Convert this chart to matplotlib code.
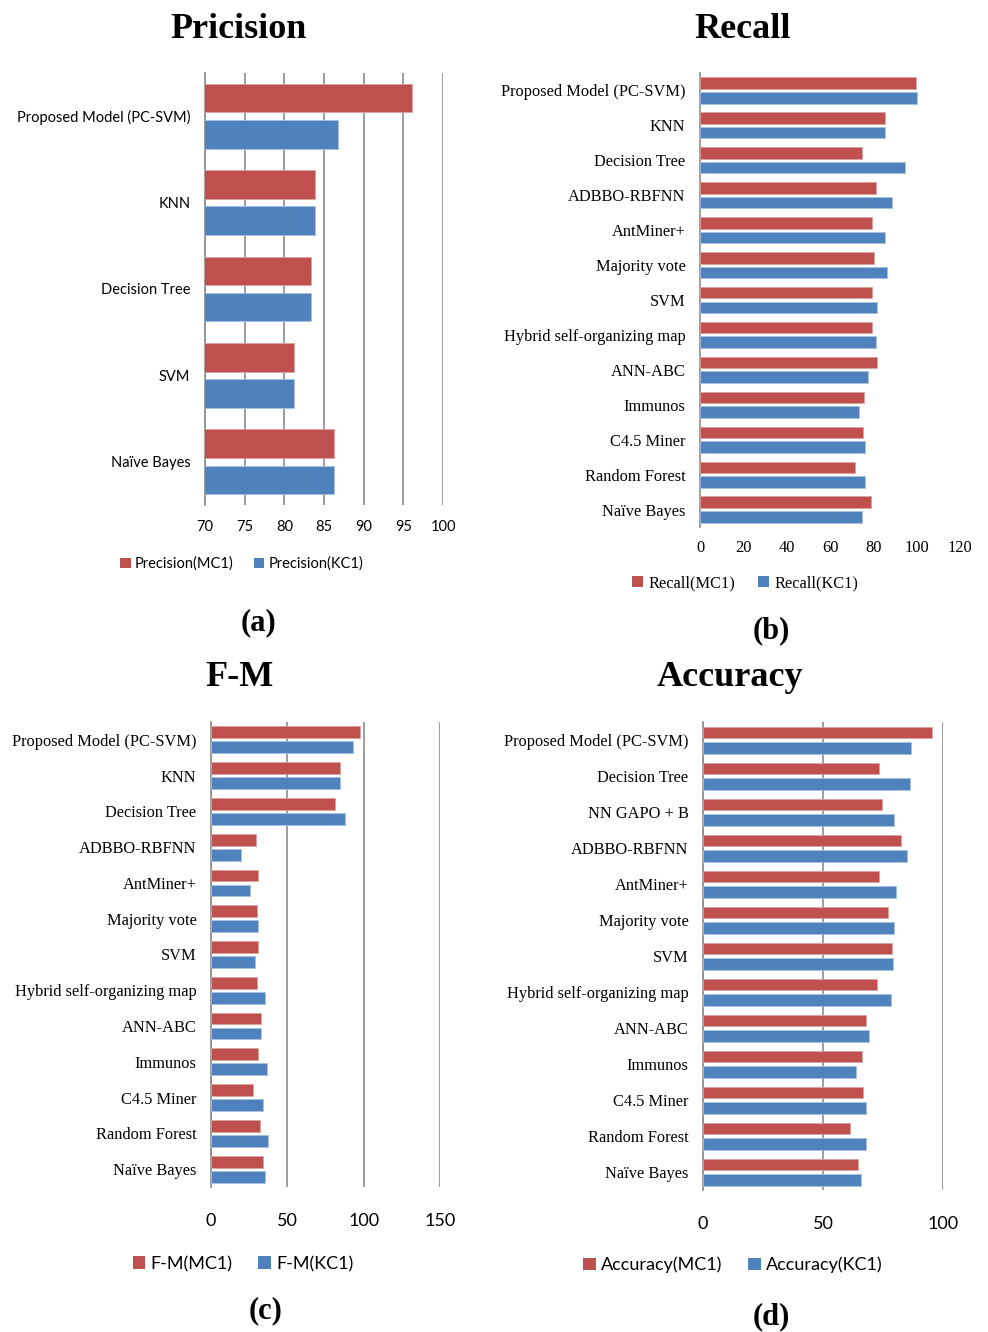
import matplotlib
matplotlib.use("Agg")
import matplotlib.pyplot as plt
from matplotlib.patches import Patch
import numpy as np

# model lists and scores per metric
prec_models = ['Proposed Model (PC-SVM)', 'KNN', 'Decision Tree', 'SVM', 'Naïve Bayes']
prec_mc1 = [96.1, 83.9, 83.3, 81.2, 86.2]
prec_kc1 = [86.8, 83.9, 83.3, 81.2, 86.2]

recall_models = ['Proposed Model (PC-SVM)', 'KNN', 'Decision Tree', 'ADBBO-RBFNN', 'AntMiner+',
                 'Majority vote', 'SVM', 'Hybrid self-organizing map', 'ANN-ABC', 'Immunos',
                 'C4.5 Miner', 'Random Forest', 'Naïve Bayes']
recall_mc1 = [99.5, 85.2, 74.8, 81.4, 79.4, 80.5, 79.5, 79.5, 81.5, 75.5, 75.1, 71.7, 79.1]
recall_kc1 = [100.2, 85.2, 94.8, 88.5, 85.4, 86.2, 81.7, 81.4, 77.4, 73.4, 76.0, 76.3, 74.8]

fm_models = recall_models
fm_mc1 = [97.7, 84.2, 81.1, 29.5, 30.6, 30.2, 31.1, 30.4, 32.6, 30.8, 27.6, 31.9, 33.9]
fm_kc1 = [92.7, 84.2, 87.7, 19.9, 25.8, 30.8, 28.6, 35.4, 32.6, 36.7, 33.9, 37.6, 35.4]

acc_models = ['Proposed Model (PC-SVM)', 'Decision Tree', 'NN GAPO + B', 'ADBBO-RBFNN', 'AntMiner+',
              'Majority vote', 'SVM', 'Hybrid self-organizing map', 'ANN-ABC', 'Immunos',
              'C4.5 Miner', 'Random Forest', 'Naïve Bayes']
acc_mc1 = [95.3, 73.5, 74.5, 82.5, 73.4, 77.0, 78.8, 72.4, 68.1, 66.1, 66.8, 61.1, 64.7]
acc_kc1 = [86.7, 86.3, 79.5, 84.9, 80.6, 79.6, 79.2, 78.4, 69.0, 63.6, 68.1, 68.1, 65.9]

RED = '#C0504D'
BLUE = '#4F81BD'
GRID = '#8c8c8c'
SANS = 'Lato'
SERIF = 'Liberation Serif'

W, H = 988, 1332
fig = plt.figure(figsize=(W / 100, H / 100), dpi=100)


def px_axes(x0, y0, x1, y1):
    # axes from pixel box (top-left origin)
    return fig.add_axes([x0 / W, 1 - y1 / H, (x1 - x0) / W, (y1 - y0) / H])


def panel(box, models, mc1, kc1, xlim, xticks, grid, cat_font, cat_size,
          tick_font, tick_size, tick_pad, legend_labels, legend_xy, legend_font, legend_size):
    ax = px_axes(*box)
    y = np.arange(len(models))
    ax.barh(y - 0.21, mc1, height=0.33, color=RED, edgecolor='#d9a3a1', linewidth=0.6, zorder=3)
    ax.barh(y + 0.21, kc1, height=0.33, color=BLUE, edgecolor='#a9c1e0', linewidth=0.6, zorder=3)
    ax.set_xlim(*xlim)
    ax.set_ylim(len(models) - 0.5, -0.5)
    ax.set_xticks(xticks)
    ax.set_yticks(y)
    ax.set_yticklabels(models, fontfamily=cat_font, fontsize=cat_size)
    for lab in ax.get_xticklabels():
        lab.set_fontfamily(tick_font)
        lab.set_fontsize(tick_size)
    ax.tick_params(axis='y', length=0, pad=10.5)
    ax.tick_params(axis='x', length=0, pad=tick_pad)
    for s in ['top', 'right', 'bottom']:
        ax.spines[s].set_visible(False)
    ax.spines['left'].set_color(GRID)
    ax.spines['left'].set_linewidth(1.2)
    if grid:
        ax.xaxis.grid(True, color=GRID, linewidth=1.2, zorder=0)
    ax.set_axisbelow(True)
    handles = [Patch(facecolor=RED, label=legend_labels[0]),
               Patch(facecolor=BLUE, label=legend_labels[1])]
    fig.legend(handles=handles, loc='center', ncol=2, frameon=False,
               bbox_to_anchor=(legend_xy[0] / W, 1 - legend_xy[1] / H),
               prop={'family': legend_font, 'size': legend_size},
               handlelength=0.7, handleheight=0.7, handletextpad=0.3, columnspacing=1.4)
    return ax


panel((205, 73, 443, 505), prec_models, prec_mc1, prec_kc1, (70, 100), range(70, 101, 5), True,
      SANS, 10.5, SANS, 10.5, 11, ['Precision(MC1)', 'Precision(KC1)'], (242, 564), SANS, 10.5)
panel((700, 73, 960, 527), recall_models, recall_mc1, recall_kc1, (0, 120), range(0, 121, 20), False,
      SERIF, 11.8, SERIF, 11.8, 9.5, ['Recall(MC1)', 'Recall(KC1)'], (745, 583), SERIF, 11.8)
panel((211, 722, 440, 1187), fm_models, fm_mc1, fm_kc1, (0, 150), [0, 50, 100, 150], True,
      SERIF, 11.8, SANS, 13, 19, ['F-M(MC1)', 'F-M(KC1)'], (243, 1264), SANS, 13)
panel((703, 722, 943, 1190), acc_models, acc_mc1, acc_kc1, (0, 100), [0, 50, 100], True,
      SERIF, 11.8, SANS, 13, 19, ['Accuracy(MC1)', 'Accuracy(KC1)'], (733, 1265), SANS, 13)

# panel titles and sub-captions
titles = [('Pricision', 239, 29), ('Recall', 743, 29), ('F-M', 239, 678), ('Accuracy', 730, 678)]
for t, x, yy in titles:
    fig.text(x / W, 1 - yy / H, t, ha='center', va='center', fontfamily=SERIF,
             fontweight='bold', fontsize=26)
captions = [('(a)', 258, 623), ('(b)', 771, 631), ('(c)', 266, 1311), ('(d)', 771, 1317)]
for t, x, yy in captions:
    fig.text(x / W, 1 - yy / H, t, ha='center', va='center', fontfamily=SERIF,
             fontweight='bold', fontsize=22)

fig.savefig('out.png', dpi=100)
